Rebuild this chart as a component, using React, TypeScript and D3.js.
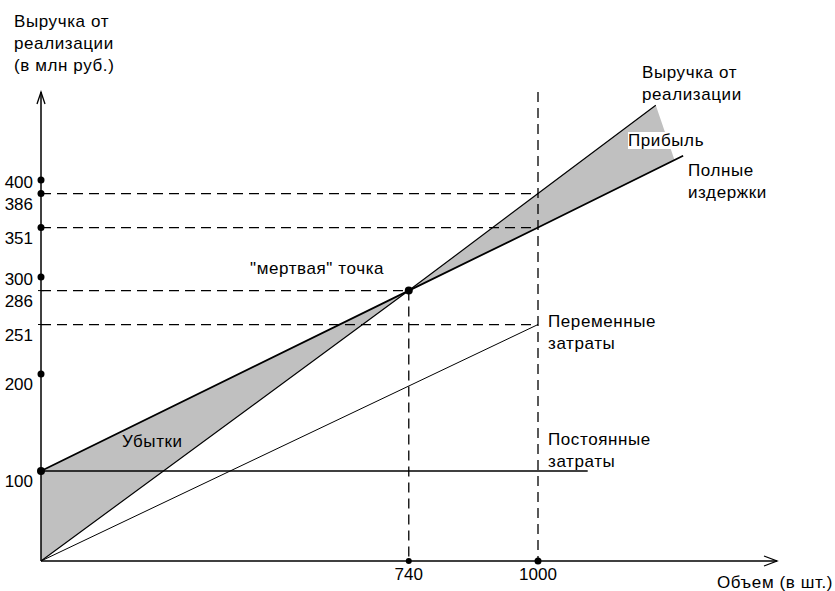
import React, { useEffect, useRef } from 'react';
import * as d3 from 'd3';

// break-even chart data (volume in units, money in mln rub.)
const revenuePts: [number, number][] = [[0, 0], [740, 286], [1000, 386], [1237, 477]];
const fullCostPts: [number, number][] = [[0, 100], [740, 286], [1000, 351], [1292, 425]];
const variablePts: [number, number][] = [[0, 0], [1000, 251]];
const fixedPts: [number, number][] = [[0, 100], [1100, 100]];
const lossArea: [number, number][] = [[0, 0], [0, 100], [740, 286]];
const profitArea: [number, number][] = [[740, 286], [1237, 477], [1275, 420]];

const yTicks = [100, 200, 251, 286, 300, 351, 386, 400];
const yDots = [100, 200, 300, 351, 386, 400];
const xTicks = [740, 1000];
const breakEven: [number, number] = [740, 286];

const FONT = '"Liberation Sans", Arial, sans-serif';

const App: React.FC = () => {
  const svgRef = useRef<SVGSVGElement>(null);

  useEffect(() => {
    if (!svgRef.current) return;
    const svg = d3.select(svgRef.current);
    svg.selectAll('*').remove();

    const x = d3.scaleLinear().domain([0, 1000]).range([41, 538]);
    // schematic axis: bottom part is compressed
    const y = d3.scaleLinear().domain([0, 100, 400]).range([561, 471, 180]);
    const line = d3.line<[number, number]>().x(d => x(d[0])).y(d => y(d[1]));

    const gray = '#c0c0c0';

    // shaded areas
    svg.append('path').attr('d', line(lossArea) + 'Z').attr('fill', gray);
    svg.append('path').attr('d', line(profitArea) + 'Z').attr('fill', gray);

    // dashed guides
    const dash = (x1: number, y1: number, x2: number, y2: number) =>
      svg.append('line')
        .attr('x1', x1).attr('y1', y1).attr('x2', x2).attr('y2', y2)
        .attr('stroke', '#000').attr('stroke-width', 1.3)
        .attr('stroke-dasharray', '10,6');

    dash(x(0), y(386), x(1000), y(386));
    dash(x(0), y(351), x(1000), y(351));
    dash(x(0), y(286), x(740), y(286));
    dash(x(0), y(251), x(1000), y(251));
    dash(x(740), y(286), x(740), y(0));
    dash(x(1000), 92, x(1000), y(0));

    // lines
    svg.append('path').attr('d', line(fixedPts)).attr('fill', 'none')
      .attr('stroke', '#000').attr('stroke-width', 1.5);
    svg.append('path').attr('d', line(variablePts)).attr('fill', 'none')
      .attr('stroke', '#000').attr('stroke-width', 1);
    svg.append('path').attr('d', line(revenuePts)).attr('fill', 'none')
      .attr('stroke', '#000').attr('stroke-width', 1.2);
    svg.append('path').attr('d', line(fullCostPts)).attr('fill', 'none')
      .attr('stroke', '#000').attr('stroke-width', 1.8);

    // axes
    const x0 = x(0), y0 = y(0);
    svg.append('line').attr('x1', x0).attr('y1', y0).attr('x2', x0).attr('y2', 92)
      .attr('stroke', '#000').attr('stroke-width', 1.5);
    svg.append('path').attr('d', `M${x0 - 4},104 L${x0},92 L${x0 + 4},104`)
      .attr('fill', 'none').attr('stroke', '#000').attr('stroke-width', 1.3);
    svg.append('line').attr('x1', x0).attr('y1', y0).attr('x2', 777).attr('y2', y0)
      .attr('stroke', '#000').attr('stroke-width', 1.5);
    svg.append('path').attr('d', `M764,${y0 - 5} L777,${y0} L764,${y0 + 5}`)
      .attr('fill', 'none').attr('stroke', '#000').attr('stroke-width', 1.3);

    // y tick marks, dots and labels
    yTicks.forEach(t => {
      svg.append('line').attr('x1', x0 - 3).attr('x2', x0 + 3)
        .attr('y1', y(t)).attr('y2', y(t)).attr('stroke', '#000');
      const dy = t === 400 || t === 300 ? 8 : 16;
      svg.append('text').attr('x', 33).attr('y', y(t) + dy)
        .attr('text-anchor', 'end').attr('font-family', FONT).attr('font-size', 17)
        .text(t);
    });
    yDots.forEach(t => {
      svg.append('circle').attr('cx', x0).attr('cy', y(t)).attr('r', t === 100 ? 4 : 3.5).attr('fill', '#000');
    });

    // x ticks
    xTicks.forEach(t => {
      svg.append('circle').attr('cx', x(t)).attr('cy', y0).attr('r', t === 1000 ? 3.5 : 3).attr('fill', '#000');
      svg.append('text').attr('x', x(t)).attr('y', 580)
        .attr('text-anchor', 'middle').attr('font-family', FONT).attr('font-size', 17)
        .text(t);
    });

    // break-even point
    svg.append('circle').attr('cx', x(breakEven[0])).attr('cy', y(breakEven[1])).attr('r', 4).attr('fill', '#000');

    // text labels
    const label = (lines: string[], lx: number, ly: number, bg = false) => {
      const g = svg.append('g');
      const txt = g.append('text').attr('font-family', FONT).attr('font-size', 17)
        .attr('letter-spacing', 0.6).attr('fill', '#000');
      lines.forEach((s, i) => {
        txt.append('tspan').attr('x', lx).attr('y', ly + i * 22).text(s);
      });
      if (bg) {
        const bb = (txt.node() as SVGTextElement).getBBox();
        g.insert('rect', 'text').attr('x', bb.x).attr('y', bb.y + 1)
          .attr('width', bb.width).attr('height', bb.height - 2).attr('fill', '#fff');
      }
    };

    label(['Выручка от', 'реализации', '(в млн руб.)'], 14, 27);
    label(['Выручка от', 'реализации'], 642, 78);
    label(['Прибыль'], 628, 146, true);
    label(['Полные', 'издержки'], 688, 176);
    label(['"мертвая" точка'], 250, 274);
    label(['Переменные', 'затраты'], 548, 327);
    label(['Постоянные', 'затраты'], 548, 445);
    label(['Убытки'], 122, 447);
    label(['Объем (в шт.)'], 717, 588);
  }, []);

  return (
    <svg ref={svgRef} width={835} height={591}
      style={{ position: 'absolute', left: 0, top: 0, background: '#fff' }} />
  );
};

export default App;
